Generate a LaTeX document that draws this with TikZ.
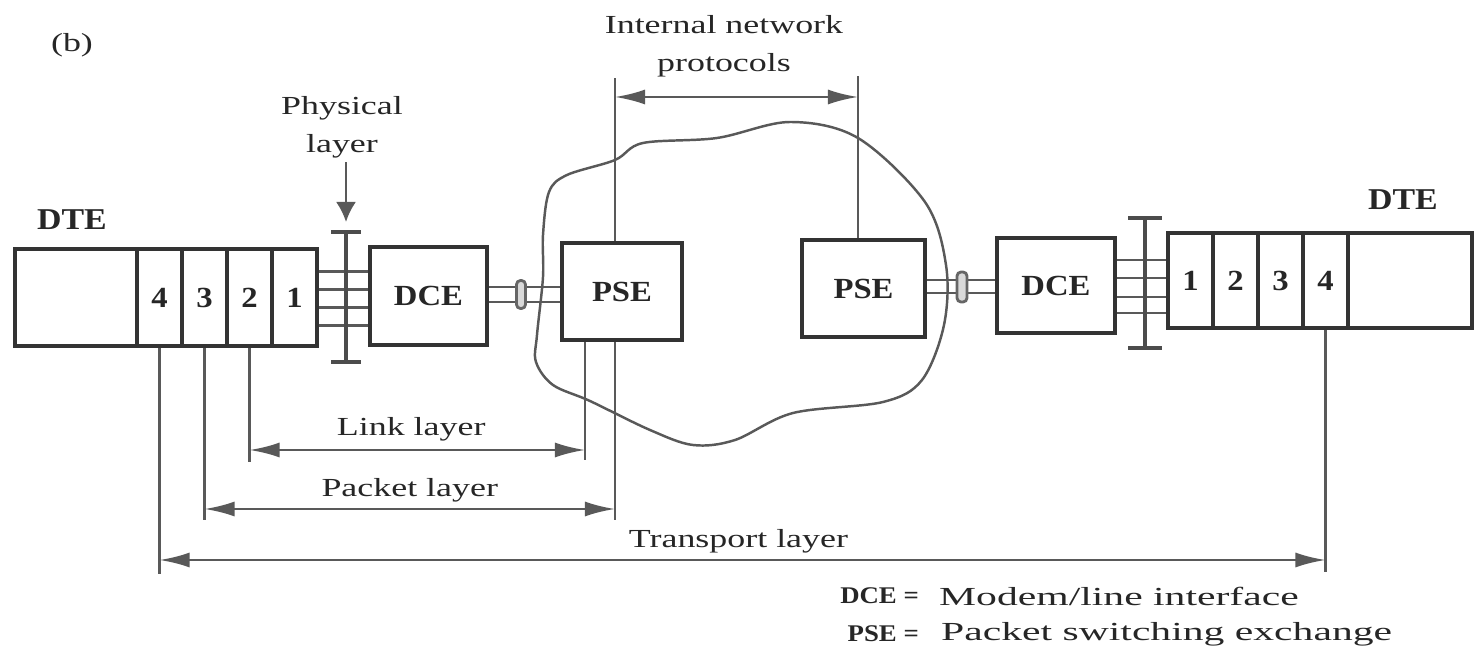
\documentclass[tikz,border=0pt]{standalone}
\usepackage{fontspec}
\setmainfont{Liberation Serif}[FakeStretch=1.38]
\newfontfamily\boxfont{Liberation Serif}[FakeStretch=1.12]
\newfontfamily\legendfont{Liberation Serif}[FakeStretch=1.6]
\usetikzlibrary{arrows.meta,calc}
\tikzset{
  box/.style={draw=black!80, line width=1.3pt, inner sep=0pt, text=black!85, font=\boxfont\bfseries\fontsize{8.3}{9}\selectfont},
  cell/.style={box, minimum width=0.45cm, minimum height=0.97cm},
  wire/.style={draw=black!65, line width=0.7pt},
  bar/.style={draw=black!70, line width=1pt},
  dim/.style={wire, {Latex[length=3mm,width=1.5mm]}-{Latex[length=3mm,width=1.5mm]}},
  lbl/.style={text=black!85, inner sep=1pt},
  brk/.style={draw=black!60, fill=black!15, line width=0.8pt, rounded corners=0.04cm, inner sep=0pt, minimum width=0.09cm, minimum height=0.28cm},
}

\begin{document}
\begin{tikzpicture}[x=0.01cm, y=-0.01cm, font=\fontsize{7.4}{10.8}\selectfont]
			%%%%% START %%%%%
			\useasboundingbox (0,0) rectangle (1478,649);
			
			% the network cloud
			\draw[wire] plot[smooth cycle, tension=0.55] coordinates {(543,277) (537,335) (536,362) (553,385) (590,401) (650,430) (693,445) (735,440) (793,413) (883,402) (922,380) (944,325) (946,265) (925,202) (858,138) (790,122) (717,138) (643,143) (615,160) (567,175) (549,192) (543,235)};
			
			% left DTE
			\node[cell, minimum width=1.22cm] (dteL) at (76,297.5) {};
			\foreach \n/\x in {4/159.5,3/204.5,2/249.5,1/294.5}
				\node[cell] (Lc\n) at (\x,297.5) {\n};
			\node[lbl, font=\boxfont\bfseries\fontsize{8.6}{9}\selectfont] (dteLtxt) at (72,220) {DTE};
			
			% right DTE
			\foreach \n/\x in {1/1190.5,2/1235.5,3/1280.5,4/1325.5}
				\node[cell, minimum height=0.95cm] (Rc\n) at (\x,280.5) {\n};
			\node[cell, minimum width=1.24cm, minimum height=0.95cm] (dteR) at (1410,280.5) {};
			\node[lbl, font=\boxfont\bfseries\fontsize{8.6}{9}\selectfont] (dteRtxt) at (1403,200) {DTE};
			
			% DCE and PSE boxes
			\node[box, minimum width=1.17cm, minimum height=0.98cm] (dceL) at (428.5,296) {DCE};
			\node[box, minimum width=1.20cm, minimum height=0.97cm] (pseL) at (622,291.5) {PSE};
			\node[box, minimum width=1.23cm, minimum height=0.97cm] (pseR) at (863.5,288.5) {PSE};
			\node[box, minimum width=1.18cm, minimum height=0.95cm] (dceR) at (1056,285.5) {DCE};
			
			% physical interfaces
			\foreach \dy in {-26,-8,10,28}
				\draw[wire] ($(Lc1.east)+(0,\dy)$) coordinate (p) -- (p -| dceL.west);
			\foreach \dy in {-25.5,-7.5,11.5,27.5}
				\draw[wire] ($(dceR.east)+(0,\dy)$) coordinate (p) -- (p -| Rc1.west);
			\draw[bar] (346,232) -- (346,362) (331,232) -- (361,232) (331,362) -- (361,362);
			\draw[bar] (1145,218) -- (1145,348) (1128,218) -- (1162,218) (1128,348) -- (1162,348);
			
			\node[lbl, align=center] (phys) at (342,127) {Physical\\layer};
			\coordinate (physTip) at (346,222);
			\draw[wire, -{Latex[length=2mm,width=2mm]}] (phys.south -| physTip) -- (physTip);
			
			% trunk lines to the PSEs
			\foreach \dy in {-9,6}
				\draw[wire] ($(dceL.east)+(0,\dy)$) coordinate (p) -- (p -| pseL.west);
			\foreach \dy in {-8.5,4.5}
				\draw[wire] ($(pseR.east)+(0,\dy)$) coordinate (p) -- (p -| dceR.west);
			\node[brk] (brkL) at (521,294.5) {};
			\node[brk, minimum width=0.1cm, minimum height=0.3cm] (brkR) at (962,287) {};
			
			% internal network protocols
			\coordinate (pseLtop) at ([xshift=-0.07cm]pseL.north);
			\coordinate (pseRtop) at ([xshift=-0.055cm]pseR.north);
			\draw[wire] (pseLtop) -- ++(0,-163);
			\draw[wire] (pseRtop) -- ++(0,-162);
			\draw[dim] (pseLtop |- 0,97) -- (pseRtop |- 0,97);
			\node[lbl, align=center] (intnet) at (724,46) {Internal network\\protocols};
			
			% link layer
			\coordinate (pseLlink) at ([xshift=-0.37cm]pseL.south);
			\draw[wire] (Lc2.south) -- ++(0,114);
			\draw[wire] (pseLlink) -- ++(0,118);
			\draw[dim] (Lc2.south |- 0,450) -- (pseLlink |- 0,450)
				node[lbl, midway, xshift=-0.06cm, yshift=0.21cm] (linktxt) {Link layer};
			
			% packet layer
			\coordinate (pseLpkt) at ([xshift=-0.07cm]pseL.south);
			\draw[wire] (Lc3.south) -- ++(0,172);
			\draw[wire] (pseLpkt) -- ++(0,178);
			\draw[dim] (Lc3.south |- 0,509) -- (pseLpkt |- 0,509)
				node[lbl, midway, yshift=0.19cm] (pkttxt) {Packet layer};
			
			% transport layer
			\draw[wire] (Lc4.south) -- ++(0,226);
			\draw[wire] (Rc4.south) -- ++(0,242);
			\draw[dim] (Lc4.south |- 0,560) -- (Rc4.south |- 0,560)
				node[lbl, midway, xshift=-0.04cm, yshift=0.19cm] (trptxt) {Transport layer};
			
			\node[lbl] (tagb) at (72,45) {(b)};
			
			% legend
			\node[lbl, anchor=east, font=\boxfont\bfseries\fontsize{6.8}{9}\selectfont] (keyDce) at (923,596) {DCE =};
			\node[lbl, anchor=west, font=\legendfont\fontsize{7.4}{9}\selectfont] (defDce) at (935,596) {Modem/line interface};
			\node[lbl, anchor=east, font=\boxfont\bfseries\fontsize{6.8}{9}\selectfont] (keyPse) at (923,634) {PSE =};
			\node[lbl, anchor=west, font=\legendfont\fontsize{7.4}{9}\selectfont] (defPse) at (937,634) {Packet switching exchange};
			
			%%%%% END %%%%%
		\end{tikzpicture}
\end{document}
